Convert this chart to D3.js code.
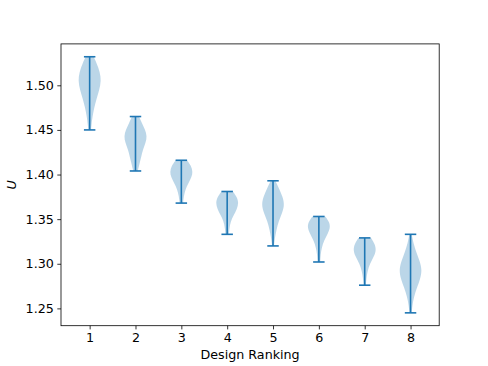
<!DOCTYPE html>
<html>
<head>
<meta charset="utf-8">
<script src="https://cdn.jsdelivr.net/npm/d3@7"></script>
<style>
  body { margin: 0; background: #fff; overflow: hidden; }
  text { font-family: "DejaVu Sans", sans-serif; }
</style>
</head>
<body>
<div id="chart"></div>
<script>
// design positions
const rankings = [1, 2, 3, 4, 5, 6, 7, 8];

// min / max of U for each design
const uMin = [1.450, 1.404, 1.368, 1.333, 1.320, 1.302, 1.276, 1.245];
const uMax = [1.532, 1.465, 1.416, 1.381, 1.393, 1.353, 1.329, 1.333];

// violin outlines: [U value, relative half width] per design
const profile1 = [[1.532, 0.35], [1.525, 0.6], [1.515, 0.9], [1.505, 1.0], [1.495, 0.85], [1.485, 0.6], [1.475, 0.4], [1.465, 0.25], [1.455, 0.15], [1.450, 0.12]];
const profile2 = [[1.465, 0.3], [1.458, 0.55], [1.450, 0.85], [1.443, 1.0], [1.436, 0.9], [1.428, 0.65], [1.420, 0.5], [1.412, 0.35], [1.404, 0.2]];
const profile3 = [[1.416, 0.5], [1.410, 0.85], [1.403, 1.0], [1.397, 0.9], [1.390, 0.6], [1.383, 0.35], [1.376, 0.22], [1.368, 0.15]];
const profile4 = [[1.381, 0.5], [1.375, 0.85], [1.368, 1.0], [1.361, 0.85], [1.354, 0.55], [1.347, 0.3], [1.340, 0.2], [1.333, 0.15]];
const profile5 = [[1.393, 0.2], [1.385, 0.5], [1.375, 0.85], [1.366, 1.0], [1.357, 0.8], [1.348, 0.5], [1.338, 0.3], [1.328, 0.15], [1.320, 0.08]];
const profile6 = [[1.353, 0.55], [1.347, 0.9], [1.341, 1.0], [1.334, 0.8], [1.326, 0.45], [1.318, 0.25], [1.310, 0.15], [1.302, 0.12]];
const profile7 = [[1.329, 0.55], [1.322, 0.9], [1.315, 1.0], [1.308, 0.8], [1.300, 0.45], [1.292, 0.25], [1.284, 0.15], [1.276, 0.1]];
const profile8 = [[1.333, 0.1], [1.323, 0.25], [1.313, 0.5], [1.303, 0.8], [1.293, 1.0], [1.283, 0.85], [1.273, 0.55], [1.263, 0.3], [1.253, 0.15], [1.245, 0.1]];
const profiles = [profile1, profile2, profile3, profile4, profile5, profile6, profile7, profile8];

const yTicks = [1.25, 1.30, 1.35, 1.40, 1.45, 1.50];

const width = 488;
const height = 366;
const margin = { top: 43.9, right: 48.8, bottom: 40.3, left: 61 };
const innerWidth = width - margin.left - margin.right;
const innerHeight = height - margin.top - margin.bottom;
const fontSize = "12.7px";

const blue = "#1f77b4";

const svg = d3.select("#chart")
  .append("svg")
  .attr("width", width)
  .attr("height", height)
  .style("display", "block");

const g = svg.append("g")
  .attr("transform", `translate(${margin.left},${margin.top})`);

const x = d3.scaleLinear().domain([0.375, 8.625]).range([0, innerWidth]);
const y = d3.scaleLinear().domain([1.2306, 1.5464]).range([innerHeight, 0]);

// violin width 0.5 -> half width 0.25 in data units
const halfW = x(1.25) - x(1);
const capW = x(1.125) - x(1);

const area = d3.area()
  .y(d => y(d[0]))
  .x0(d => -d[1] * halfW)
  .x1(d => d[1] * halfW)
  .curve(d3.curveBasis);

const violins = g.append("g")
  .selectAll("g")
  .data(rankings)
  .join("g")
  .attr("transform", d => `translate(${x(d)},0)`);

violins.append("path")
  .attr("d", (d, i) => area(profiles[i]))
  .attr("fill", blue)
  .attr("fill-opacity", 0.3);

// vertical range line
violins.append("line")
  .attr("x1", 0).attr("x2", 0)
  .attr("y1", (d, i) => y(uMin[i]))
  .attr("y2", (d, i) => y(uMax[i]))
  .attr("stroke", blue)
  .attr("stroke-width", 1.6);

// caps
violins.append("line")
  .attr("x1", -capW).attr("x2", capW)
  .attr("y1", (d, i) => y(uMax[i]))
  .attr("y2", (d, i) => y(uMax[i]))
  .attr("stroke", blue)
  .attr("stroke-width", 1.6);

violins.append("line")
  .attr("x1", -capW).attr("x2", capW)
  .attr("y1", (d, i) => y(uMin[i]))
  .attr("y2", (d, i) => y(uMin[i]))
  .attr("stroke", blue)
  .attr("stroke-width", 1.6);

// axes
const xAxis = g.append("g")
  .attr("transform", `translate(0,${innerHeight})`)
  .call(d3.axisBottom(x).tickValues(rankings).tickSize(3.7).tickPadding(3.5).tickFormat(d3.format("d")));

const yAxis = g.append("g")
  .call(d3.axisLeft(y).tickValues(yTicks).tickSize(3.7).tickPadding(3.5).tickFormat(d3.format(".2f")));

[xAxis, yAxis].forEach(a => {
  a.attr("font-size", fontSize).attr("font-family", "DejaVu Sans, sans-serif");
  a.select(".domain").remove();
  a.selectAll(".tick line").attr("stroke", "#000").attr("stroke-width", 0.8);
  a.selectAll("text").attr("fill", "#000");
});

// frame
g.append("rect")
  .attr("x", 0).attr("y", 0)
  .attr("width", innerWidth).attr("height", innerHeight)
  .attr("fill", "none")
  .attr("stroke", "#000")
  .attr("stroke-width", 0.8);

// labels
svg.append("text")
  .attr("x", margin.left + innerWidth / 2)
  .attr("y", 359)
  .attr("text-anchor", "middle")
  .attr("font-size", fontSize)
  .text("Design Ranking");

svg.append("text")
  .attr("transform", `translate(16,${margin.top + innerHeight / 2}) rotate(-90)`)
  .attr("text-anchor", "middle")
  .attr("font-size", fontSize)
  .attr("font-style", "italic")
  .text("U");
</script>
</body>
</html>
